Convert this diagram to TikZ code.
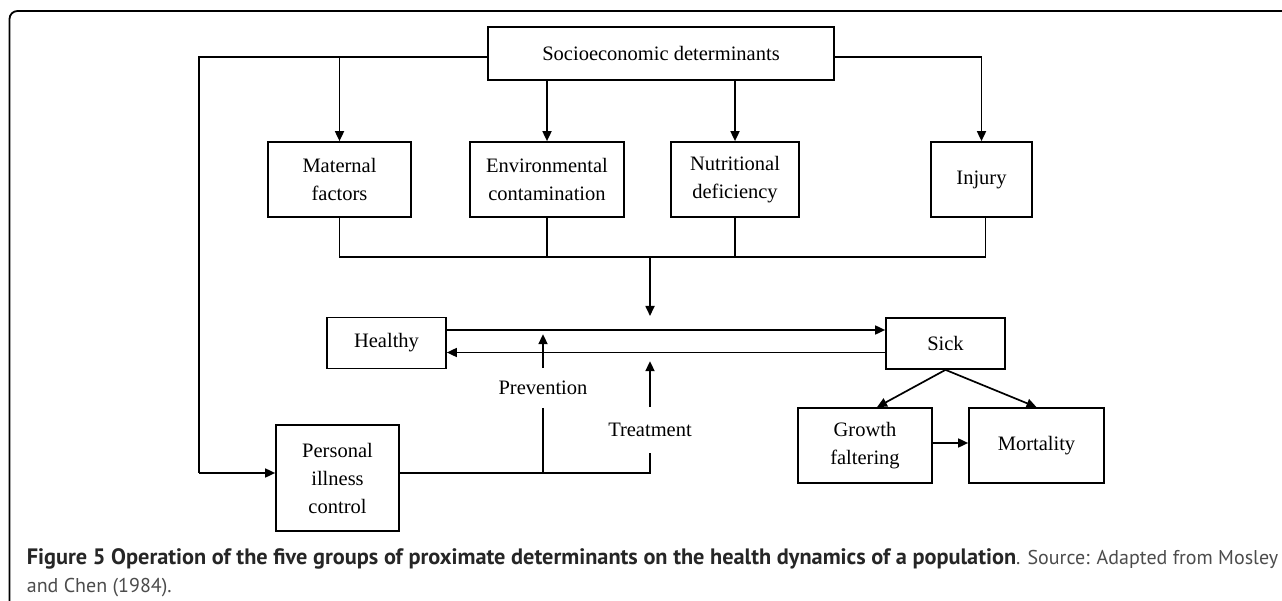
\documentclass[tikz,border=0pt]{standalone}
\usepackage{fontspec}
\setmainfont{Liberation Serif}
\newfontfamily\capfont{PT Sans}
\usepackage{xcolor}
\usetikzlibrary{arrows.meta, calc, positioning}

\begin{document}
\begin{tikzpicture}[x=1pt, y=-1pt, >={Triangle[length=10pt, width=9pt]},
    line width=1.7pt,
    box/.style={draw, line width=1.7pt, align=center, inner sep=0pt,
        font=\fontsize{20.5}{28}\selectfont},
    lbl/.style={align=center, inner sep=0pt, font=\fontsize{20.5}{28}\selectfont}]
    \clip (0,0) rectangle (1282,601);
    \fill[white] (0,0) rectangle (1282,601);
    % frame
    \draw[line width=1.8pt, rounded corners=8pt] (1300,11) -- (9.5,11) -- (9.5,620);
    % boxes
    \node[box, minimum width=346, minimum height=53] (socio) at (661,53.5) {Socioeconomic determinants};
    \node[box, minimum width=143, minimum height=75] (maternal) at (339.5,179.5) {Maternal\\factors};
    \node[box, minimum width=154, minimum height=75] (env) at (547,179.5) {Environmental\\contamination};
    \node[box, minimum width=128, minimum height=75] (nutr) at (735,179.5) {Nutritional\\deficiency};
    \node[box, minimum width=101, minimum height=75] (injury) at (981.5,179.5) {Injury};
    \node[box, minimum width=119, minimum height=51] (healthy) at (386.5,343) {Healthy};
    \node[box, minimum width=119, minimum height=51] (sick) at (945.5,343.5) {Sick};
    \node[box, minimum width=123, minimum height=106] (personal) at (337.5,478) {Personal\\illness\\control};
    \node[box, minimum width=134, minimum height=75] (growth) at (865,445.5) {Growth\\faltering};
    \node[box, minimum width=135, minimum height=75] (mortality) at (1036.5,445.5) {Mortality};
    \node[lbl, minimum height=38] (prev) at (543,388) {Prevention};
    \node[lbl, minimum height=44] (treat) at (650,430) {Treatment};
    % socioeconomic links
    \coordinate (loopL) at (199,57);
    \coordinate (pin) at (199,473);
    \draw (socio.west |- loopL) -- (loopL) -- (pin);
    \draw[->] (pin) -- (pin -| personal.west);
    \draw[->] (maternal.north |- loopL) -- (maternal.north);
    \draw[->] (env.north |- socio.south) -- (env.north);
    \draw[->] (nutr.north |- socio.south) -- (nutr.north);
    \draw[->] (socio.east |- loopL) -| (injury.north);
    % collecting bus
    \coordinate (bus) at (650,257);
    \coordinate (inflow) at (650,316);
    \draw (maternal.south) |- (bus) -| ([xshift=4pt]injury.south);
    \draw (env.south) -- (env.south |- bus);
    \draw (nutr.south) -- (nutr.south |- bus);
    \draw[->] (bus) -- (inflow);
    % health transitions
    \draw[->] ([yshift=13pt]healthy.east) -- ([yshift=13pt]healthy.east -| sick.west);
    \draw[->] ([yshift=-9pt]sick.west) -- ([yshift=-9pt]sick.west -| healthy.east);
    \draw[->] (prev.north) -- ++(0,-34);
    \draw[->] (treat.north) -- ++(0,-46);
    \coordinate (pout) at (pin -| personal.east);
    \draw (pout) -| (treat.south);
    \draw (prev.south) -- (prev.south |- pout);
    % outcomes
    \draw[->] (sick.south) -- ([xshift=12pt]growth.north);
    \draw[->] (sick.south) -- (mortality.north);
    \draw[->] (growth.east |- 0,443) -- (mortality.west |- 0,443);
    % caption
    \node[anchor=base west, inner sep=0pt, font=\capfont] (cap1) at (26,564)
        {\textcolor{black!85}{\fontsize{22.3}{28}\selectfont\bfseries Figure 5 Operation of the five groups of proximate determinants on the health dynamics of a population}\textcolor{black!70}{\fontsize{20}{28}\selectfont. Source: Adapted from Mosley}};
    \node[anchor=base west, inner sep=0pt, font=\capfont\fontsize{20}{28}\selectfont, text=black!70] (cap2) at (26,592)
        {and Chen (1984).};
\end{tikzpicture}
\end{document}
